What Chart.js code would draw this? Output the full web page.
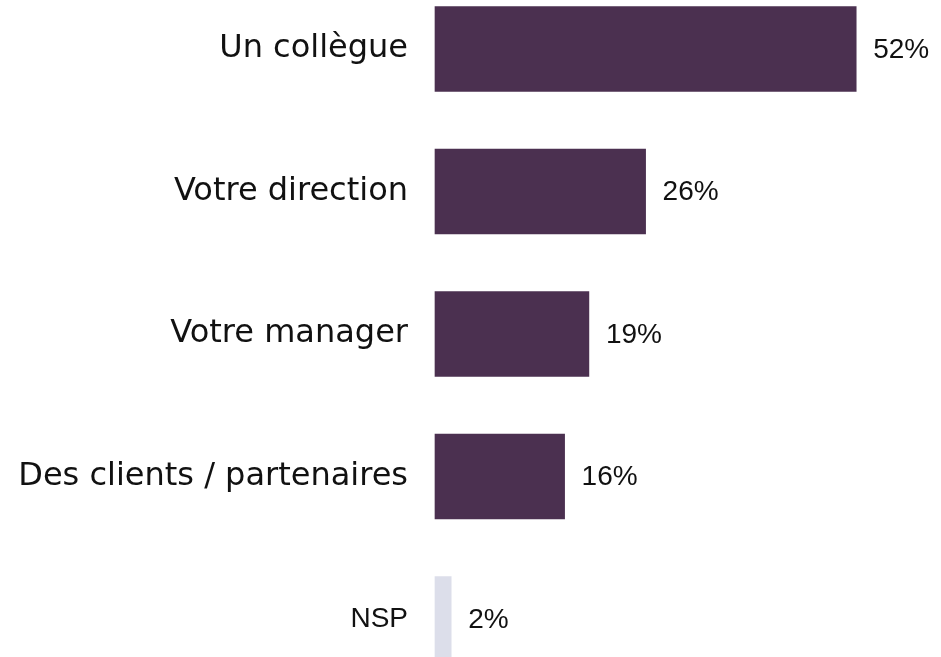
<!DOCTYPE html>
<html>
<head>
<meta charset="utf-8">
<script src="https://cdn.jsdelivr.net/npm/chart.js@4/dist/chart.umd.min.js"></script>
<style>
  html, body { margin: 0; padding: 0; background: #fff; }
  #wrap { width: 941px; height: 657px; }
</style>
</head>
<body>
<div id="wrap"><canvas id="barChart"></canvas></div>
<script>
const categories = ["Un collègue", "Votre direction", "Votre manager", "Des clients / partenaires", "NSP"];
const values = [52, 26, 19, 16, 2];
const barColors = ["#4B3050", "#4B3050", "#4B3050", "#4B3050", "#DCDEEA"];

// value labels at the end of each bar
const valueLabels = {
  id: "valueLabels",
  afterDatasetsDraw(chart) {
    const ctx = chart.ctx;
    const meta = chart.getDatasetMeta(0);
    ctx.save();
    ctx.font = "28px 'Liberation Sans', Arial, sans-serif";
    ctx.fillStyle = "#111";
    ctx.textAlign = "left";
    ctx.textBaseline = "middle";
    meta.data.forEach((bar, i) => {
      ctx.fillText(values[i] + "%", bar.x + 17, bar.y + 1);
    });
    ctx.restore();
  },
};

const ctx = document.getElementById("barChart").getContext("2d");

new Chart(ctx, {
  type: "bar",
  data: {
    labels: categories,
    datasets: [
      {
        data: values,
        backgroundColor: barColors,
        barThickness: 85,
        clip: false,
      },
    ],
  },
  options: {
    indexAxis: "y",
    responsive: true,
    maintainAspectRatio: false,
    animation: false,
    layout: { padding: { top: 49, bottom: 38, left: 0, right: 20 } },
    plugins: { legend: { display: false }, tooltip: { enabled: false } },
    scales: {
      x: { display: false, min: 0, max: 60 },
      y: {
        offset: false,
        grid: { display: false, drawTicks: false },
        border: { display: false },
        afterFit: (scale) => {
          scale.width = 435;
          scale.paddingTop = 0;
          scale.paddingBottom = 0;
        },
        ticks: {
          padding: 27,
          color: "#111",
          font: (c) =>
            c.index === 4
              ? { family: "'Liberation Sans', Arial, sans-serif", size: 28 }
              : { family: "'DejaVu Sans', sans-serif", size: 32 },
        },
      },
    },
  },
  plugins: [valueLabels],
});
</script>
</body>
</html>
